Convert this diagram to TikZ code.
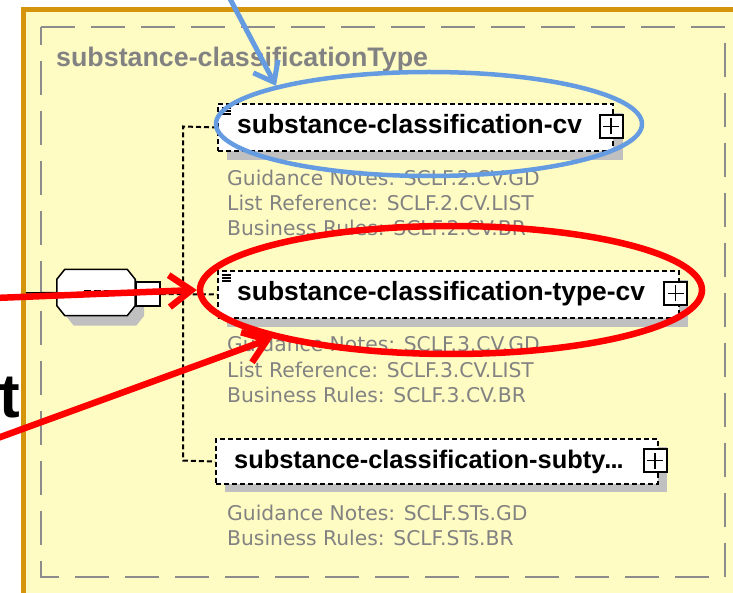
\documentclass[tikz,border=0pt]{standalone}
\usepackage{fontspec}
\setmainfont{Liberation Sans}
\newfontfamily\annfont{DejaVu Sans}
\usetikzlibrary{shapes.geometric,arrows.meta}
\definecolor{frameorange}{RGB}{212,148,12}
\definecolor{paneyellow}{RGB}{255,252,195}
\definecolor{dashgray}{RGB}{140,140,140}
\definecolor{textgray}{RGB}{130,130,130}
\definecolor{shadowgray}{RGB}{192,192,192}
\definecolor{markblue}{RGB}{100,155,225}
\definecolor{markred}{RGB}{255,0,0}
\newcommand\myoctpath[1]{([xshift=8pt]#1.north west) -- ([xshift=-8pt]#1.north east) -- ([yshift=-10pt]#1.north east)
  -- ([yshift=10pt]#1.south east) -- ([xshift=-8pt]#1.south east) -- ([xshift=8pt]#1.south west)
  -- ([yshift=10pt]#1.south west) -- ([yshift=-10pt]#1.north west) -- cycle}
\tikzset{
  elembox/.style={draw=black, fill=white, line width=2pt, dash pattern=on 5pt off 3pt,
    rectangle, inner sep=0, anchor=north west},
  elemshadow/.style={fill=shadowgray, rectangle, inner sep=0, anchor=north west},
  plusbox/.style={draw=black, fill=white, line width=2pt, minimum width=23pt, minimum height=23pt,
    inner sep=0, rectangle,
    path picture={\draw[line width=1.8pt] ([xshift=-8pt]path picture bounding box.center) -- ([xshift=8pt]path picture bounding box.center);
                  \draw[line width=1.8pt] ([yshift=-8pt]path picture bounding box.center) -- ([yshift=8pt]path picture bounding box.center);}},
  elemtext/.style={font=\bfseries\fontsize{26.4}{26.4}\selectfont, anchor=base west, inner sep=0},
  titletext/.style={font=\bfseries\fontsize{26.8}{26.8}\selectfont, text=textgray, anchor=base west, inner sep=0},
  anntext/.style={font=\annfont\fontsize{20.3}{20.3}\selectfont, text=textgray, anchor=base west, inner sep=0},
  conn/.style={line width=2pt, dash pattern=on 5pt off 3pt},
  iconline/.style={line width=1.5pt},
  seqframe/.style={rectangle, minimum width=78pt, minimum height=46pt, inner sep=0},
  markell/.style={ellipse, inner sep=0},
  bluearrow/.style={markblue, line width=5pt, -{Straight Barb[length=18pt,width=28pt]}},
  redarrow/.style={markred, line width=6.5pt, -{Straight Barb[length=22pt,width=32pt]}},
}
\begin{document}
\begin{tikzpicture}[x=1pt,y=-1pt]
\useasboundingbox (0,0) rectangle (733,593);
\clip (0,0) rectangle (733,593);
\fill[white] (0,0) rectangle (733,593);
% frame
\draw[frameorange, line width=5pt, fill=paneyellow] (23.5,9.5) rectangle (760,595);
\draw[dashgray, line width=2.5pt, dash pattern=on 34pt off 16pt] (41,27) -- (725,27) -- (725,577) -- (41,577) -- cycle;
\node[titletext] (title) at (56,67) {substance-classificationType};

% spine coordinates
\coordinate (frameleft) at (26,293);
\coordinate (spinetop) at (183,126.5);
\coordinate (spinebot) at (183,460.5);

% shadows
\node[elemshadow, minimum width=396pt, minimum height=47pt] (sh1) at (227,113) {};
\node[elemshadow, minimum width=461pt, minimum height=47pt] (sh2) at (227,280) {};
\node[elemshadow, minimum width=442pt, minimum height=45pt] (sh3) at (225,447) {};

% element boxes
\node[elembox, minimum width=395pt, minimum height=47pt] (box1) at (217,103) {};
\node[elembox, minimum width=461pt, minimum height=47pt] (box2) at (217,270) {};
\node[elembox, minimum width=442pt, minimum height=45pt] (box3) at (215,438) {};

% connectors
\draw[conn] (box1.west) -- (spinetop) -- (spinebot) -- (box3.west);

\node[elemtext] (t1) at (237,134) {substance-classification-cv};
\node[elemtext] (t2) at (237,301) {substance-classification-type-cv};
\node[elemtext, font=\bfseries\fontsize{25.4}{25.4}\selectfont] (t3) at (234,468) {substance-classification-subty\kern-1pt.\kern-1pt.\kern-1pt.};

\node[plusbox] (p1) at (611,126.5) {};
\node[plusbox] (p2) at (675.5,293.5) {};
\node[plusbox] (p3) at (655,460.5) {};

% icons
\foreach \dy in {5,8,11} {
  \draw[iconline] ([shift={(5,\dy)}]box1.north west) -- ++(9,0);
  \draw[iconline] ([shift={(5,\dy)}]box2.north west) -- ++(9,0);
}

% annotations
\node[anntext] (a11) at (227,186) {Guidance Notes: SCLF.2.CV.GD};
\node[anntext] (a12) at (227,211) {List Reference: SCLF.2.CV.LIST};
\node[anntext] (a13) at (227,236) {Business Rules: SCLF.2.CV.BR};
\node[anntext] (a21) at (227,352) {Guidance Notes: SCLF.3.CV.GD};
\node[anntext] (a22) at (227,377) {List Reference: SCLF.3.CV.LIST};
\node[anntext] (a23) at (227,402) {Business Rules: SCLF.3.CV.BR};
\node[anntext] (a31) at (227,520) {Guidance Notes: SCLF.STs.GD};
\node[anntext] (a32) at (227,545) {Business Rules: SCLF.STs.BR};

% sequence compositor (octagon drawn on named frame nodes)
\node[seqframe] (seqsh) at (105,302.5) {};
\node[seqframe] (seq) at (96,292.5) {};
\fill[shadowgray] \myoctpath{seqsh};
\draw[black, fill=white, line width=1.5pt] \myoctpath{seq};
\node[rectangle, draw=black, fill=white, line width=1.5pt, minimum width=24pt, minimum height=24pt, inner sep=0] (seqbox) at (148,294) {};
\draw[line width=1.5pt] (frameleft) -- (seq.west);
\draw[conn] (seqbox.east) -- (box2.west);
\draw[line width=1.5pt] (68,293) -- (84,293);
\foreach \xx in {84,94,104} { \fill (\xx,290.5) rectangle ++(7,5); }

% highlight marks
\node[markell, draw=markblue, line width=4.5pt, minimum width=426pt, minimum height=104pt] (blueell) at (429,124) {};
\node[markell, draw=markred, line width=6.5pt, minimum width=502pt, minimum height=128pt] (redell) at (451,290) {};
\coordinate (bluestart) at (228,-5);
\coordinate (redstart1) at (-5,298);
\coordinate (redstart2) at (-5,439);
\draw[bluearrow] (bluestart) -- (blueell.166);
\draw[redarrow] (redstart1) -- (redell.west);
\draw[redarrow] (redstart2) -- (redell.195);

\node[font=\bfseries\fontsize{62}{62}\selectfont, anchor=base west, inner sep=0] (tletter) at (-1,417) {t};
\end{tikzpicture}
\end{document}
